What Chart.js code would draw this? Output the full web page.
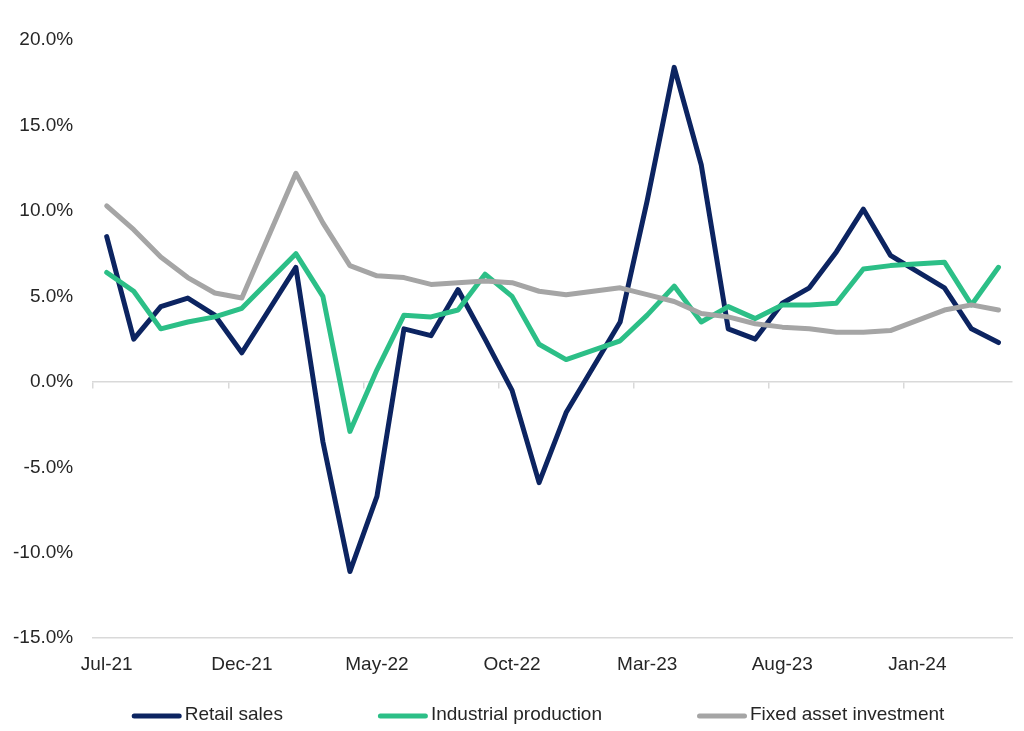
<!DOCTYPE html>
<html>
<head>
<meta charset="utf-8">
<script src="https://cdn.jsdelivr.net/npm/chart.js@4.4.1/dist/chart.umd.min.js"></script>
<style>
html,body{margin:0;padding:0;background:#ffffff;}
#wrap{width:1024px;height:731px;position:relative;}
canvas{display:block;}
</style>
</head>
<body>
<div id="wrap"><canvas id="c" width="1024" height="731"></canvas></div>
<script>
// ---- data ----
const months = ['Jul-21','Aug-21','Sep-21','Oct-21','Nov-21','Dec-21',
  'Jan-22','Feb-22','Mar-22','Apr-22','May-22','Jun-22','Jul-22','Aug-22','Sep-22','Oct-22','Nov-22','Dec-22',
  'Jan-23','Feb-23','Mar-23','Apr-23','May-23','Jun-23','Jul-23','Aug-23','Sep-23','Oct-23','Nov-23','Dec-23',
  'Jan-24','Feb-24','Mar-24','Apr-24'];
const shownMonthLabels = ['Jul-21','Dec-21','May-22','Oct-22','Mar-23','Aug-23','Jan-24'];
const retailSales = [8.5, 2.5, 4.4, 4.9, 3.9, 1.7, null, 6.7, -3.5, -11.1, -6.7, 3.1, 2.7, 5.4, 2.5, -0.5, -5.9, -1.8,
  null, 3.5, 10.6, 18.4, 12.7, 3.1, 2.5, 4.6, 5.5, 7.6, 10.1, 7.4, null, 5.5, 3.1, 2.3];
const industrialProduction = [6.4, 5.3, 3.1, 3.5, 3.8, 4.3, null, 7.5, 5.0, -2.9, 0.7, 3.9, 3.8, 4.2, 6.3, 5.0, 2.2, 1.3,
  null, 2.4, 3.9, 5.6, 3.5, 4.4, 3.7, 4.5, 4.5, 4.6, 6.6, 6.8, null, 7.0, 4.5, 6.7];
const fixedAssetInvestment = [10.3, 8.9, 7.3, 6.1, 5.2, 4.9, null, 12.2, 9.3, 6.8, 6.2, 6.1, 5.7, 5.8, 5.9, 5.8, 5.3, 5.1,
  null, 5.5, 5.1, 4.7, 4.0, 3.8, 3.4, 3.2, 3.1, 2.9, 2.9, 3.0, null, 4.2, 4.5, 4.2];
const yTickValues = [-15, -10, -5, 0, 5, 10, 15, 20];
const seriesNames = ['Retail sales', 'Industrial production', 'Fixed asset investment'];

// ---- styles ----
const FONT = '"Liberation Sans", Arial, sans-serif';
const TEXT = '#262626';
const AXIS = '#d9d9d9';
const colors = ['#0c2461', '#2cbf87', '#a5a5a5'];

const legendPlugin = {
  id: 'customLegend',
  afterDraw(chart) {
    const ctx = chart.ctx;
    ctx.save();
    ctx.font = '19px ' + FONT;
    const boxW = 50, boxH = 5, textGap = 3, itemGap = 95;
    const items = chart.data.datasets.map(d => ({
      text: d.label, color: d.borderColor,
      w: boxW + textGap + ctx.measureText(d.label).width
    }));
    const total = items.reduce((s, it) => s + it.w, 0) + itemGap * (items.length - 1);
    let x = 538 - total / 2;
    const y = 715;
    items.forEach(it => {
      ctx.fillStyle = it.color;
      ctx.beginPath();
      if (ctx.roundRect) ctx.roundRect(x, y - boxH / 2 + 1, boxW, boxH, boxH / 2);
      else ctx.rect(x, y - boxH / 2 + 1, boxW, boxH);
      ctx.fill();
      ctx.fillStyle = TEXT;
      ctx.textAlign = 'left';
      ctx.textBaseline = 'middle';
      ctx.fillText(it.text, x + boxW + textGap, y);
      x += it.w + itemGap;
    });
    ctx.restore();
  }
};

const series = [retailSales, industrialProduction, fixedAssetInvestment];
const datasets = series.map((data, i) => ({
  label: seriesNames[i],
  data: data,
  borderColor: colors[i],
  backgroundColor: colors[i],
  borderWidth: 5,
  pointRadius: 0,
  pointHoverRadius: 0,
  tension: 0,
  spanGaps: true,
  borderJoinStyle: 'round',
  borderCapStyle: 'round',
  order: 3 - i,
  xAxisID: 'x',
  yAxisID: 'y'
}));

new Chart(document.getElementById('c'), {
  type: 'line',
  data: { labels: months, datasets: datasets },
  options: {
    responsive: false,
    devicePixelRatio: 1,
    animation: false,
    layout: { padding: { left: -7, right: 12, top: 40, bottom: 48 } },
    plugins: { legend: { display: false }, tooltip: { enabled: false } },
    scales: {
      x: {
        type: 'category',
        position: 'bottom',
        offset: true,
        grid: { display: false },
        border: { display: true, color: AXIS, width: 1.5 },
        ticks: {
          autoSkip: false, maxRotation: 0, minRotation: 0, padding: 7,
          color: TEXT, font: { family: FONT, size: 19 },
          callback: function(value) {
            const lab = this.getLabelForValue(value);
            return shownMonthLabels.includes(lab) ? lab : '';
          }
        }
      },
      x2: {
        type: 'category',
        labels: months,
        position: { y: 0 },
        offset: true,
        ticks: { display: false, autoSkip: false },
        grid: {
          offset: true, drawOnChartArea: false, drawTicks: true, tickLength: 6, lineWidth: 1.5,
          color: (c) => (c.index % 5 === 0 && c.index < months.length) ? AXIS : 'rgba(0,0,0,0)'
        },
        border: { display: true, color: AXIS, width: 1.5 }
      },
      y: {
        type: 'linear',
        min: yTickValues[0],
        max: yTickValues[yTickValues.length - 1],
        afterBuildTicks: (scale) => { scale.ticks = yTickValues.map(v => ({ value: v })); },
        grid: { display: false, drawTicks: false },
        border: { display: false },
        ticks: {
          padding: 20, color: TEXT, font: { family: FONT, size: 19 },
          callback: (v) => v.toFixed(1) + '%'
        }
      }
    }
  },
  plugins: [legendPlugin]
});
</script>
</body>
</html>
